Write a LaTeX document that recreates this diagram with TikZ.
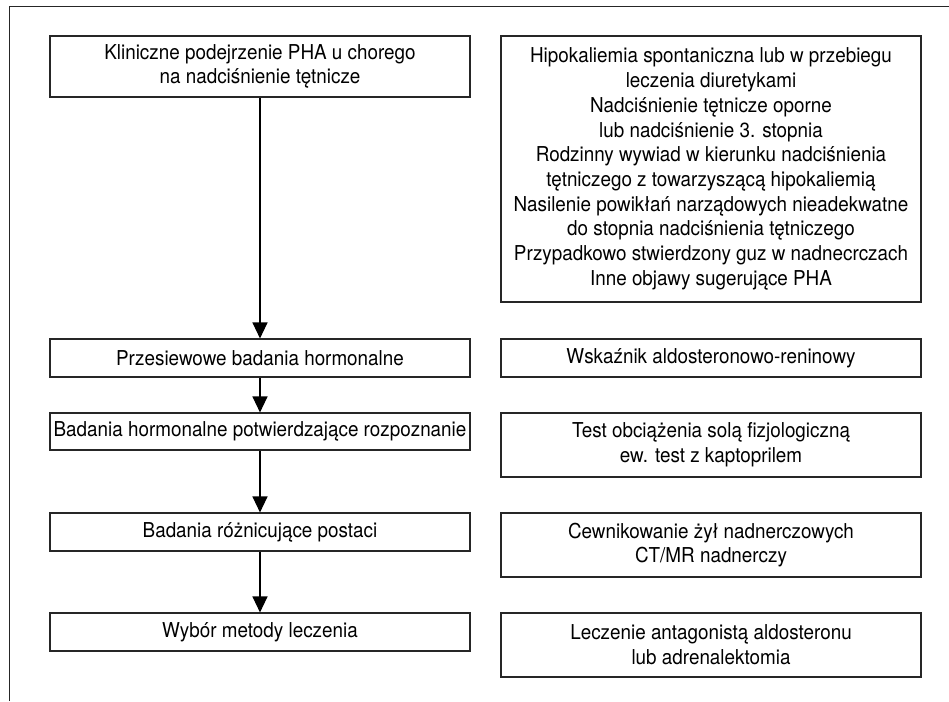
\documentclass[tikz,border=0pt]{standalone}
\usepackage{fontspec}
\setmainfont{TeX Gyre Heros}[FakeStretch=0.92]
\usetikzlibrary{arrows.meta}
\begin{document}
\begin{tikzpicture}[x=1pt,y=1pt,
  box/.style={draw=black!85, line width=1.1pt, minimum width=420pt, inner sep=0pt,
              align=center, font=\fontsize{20.5}{24.7}\selectfont},
  flow/.style={line width=1.2pt, -{Triangle[length=16pt,width=15pt]}}]
\useasboundingbox (0,0) rectangle (949,701);
% open frame: top and left rules
\draw[line width=1pt, black!85] (9,0) -- (9,694.5) -- (949,694.5);
% left column: steps
\node[box, minimum height=61pt] (s1) at (260,634.5) {Kliniczne podejrzenie PHA u chorego\\na nadciśnienie tętnicze};
\node[box, minimum height=38pt] (s2) at (260,343) {Przesiewowe badania hormonalne};
\node[box, minimum height=37pt] (s3) at (260,269.5) {Badania hormonalne potwierdzające rozpoznanie};
\node[box, minimum height=38pt] (s4) at (260,169) {Badania różnicujące postaci};
\node[box, minimum height=38pt] (s5) at (260,69) {Wybór metody leczenia};
% right column: details
\node[box, minimum height=266pt] (d1) at (711,532) {Hipokaliemia spontaniczna lub w przebiegu\\leczenia diuretykami\\Nadciśnienie tętnicze oporne\\lub nadciśnienie 3. stopnia\\Rodzinny wywiad w kierunku nadciśnienia\\tętniczego z towarzyszącą hipokaliemią\\Nasilenie powikłań narządowych nieadekwatne\\do stopnia nadciśnienia tętniczego\\Przypadkowo stwierdzony guz w nadnecrczach\\Inne objawy sugerujące PHA};
\node[box, minimum height=38pt] (d2) at (711,343) {Wskaźnik aldosteronowo-reninowy};
\node[box, minimum height=64pt] (d3) at (711,256) {Test obciążenia solą fizjologiczną\\ew. test z kaptoprilem};
\node[box, minimum height=64pt] (d4) at (711,156) {Cewnikowanie żył nadnerczowych\\CT/MR nadnerczy};
\node[box, minimum height=64pt] (d5) at (711,56) {Leczenie antagonistą aldosteronu\\lub adrenalektomia};
% flow arrows
\draw[flow] (s1.south) -- (s2.north);
\draw[flow] (s2.south) -- (s3.north);
\draw[flow] (s3.south) -- (s4.north);
\draw[flow] (s4.south) -- (s5.north);
\end{tikzpicture}
\end{document}
